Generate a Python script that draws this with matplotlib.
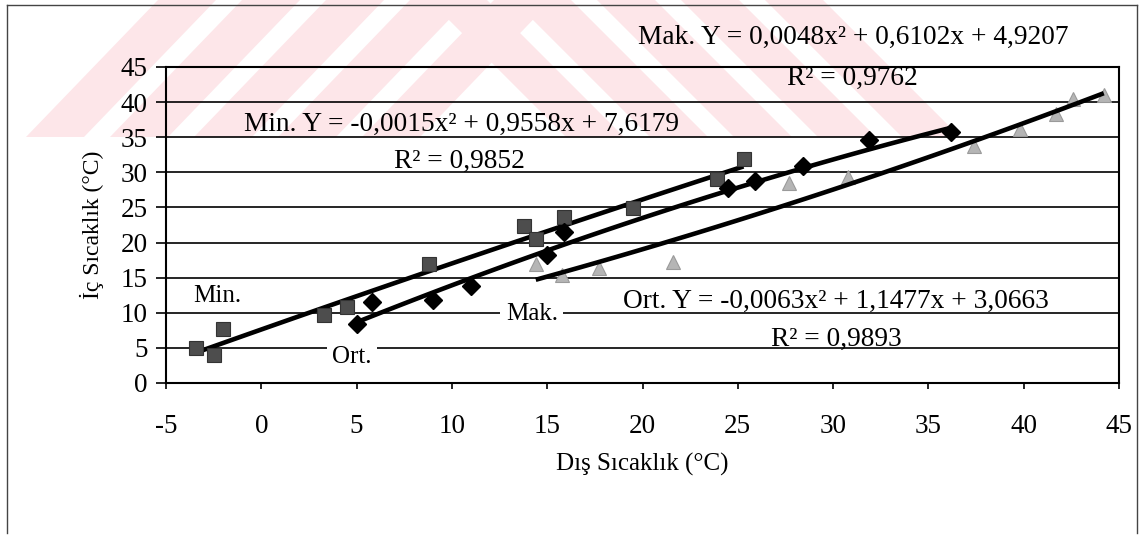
import numpy as np
import matplotlib.pyplot as plt
from matplotlib.patches import Polygon
from matplotlib.lines import Line2D

W, H = 1146, 535

# Min. (squares)
min_x = [-3.4, -2.5, -2.0, 3.3, 4.5, 8.8, 13.8, 14.4, 15.9, 19.5, 23.9, 25.3]
min_y = [5.0, 4.0, 7.7, 9.7, 10.8, 17.0, 22.3, 20.5, 23.7, 24.9, 29.0, 31.9]
# Ort. (diamonds)
ort_x = [5.0, 5.8, 9.0, 11.0, 15.0, 15.9, 24.5, 25.9, 28.4, 31.9, 36.2]
ort_y = [8.4, 11.5, 11.8, 13.8, 18.2, 21.5, 27.7, 28.7, 30.9, 34.6, 35.7]
# Mak. (triangles)
mak_x = [14.4, 15.8, 17.7, 21.6, 27.7, 30.8, 37.4, 39.8, 41.7, 42.6, 44.2]
mak_y = [17.0, 15.4, 16.4, 17.2, 28.5, 29.4, 33.7, 36.2, 38.3, 40.4, 41.0]

# trend line coefficients shown on the chart (a, b, c)
min_fit = [-0.0015, 0.9558, 7.6179]
ort_fit = [-0.0063, 1.1477, 3.0663]
mak_fit = [0.0048, 0.6102, 4.9207]

plt.rcParams['font.family'] = ['Liberation Serif', 'DejaVu Serif']
plt.rcParams['axes.unicode_minus'] = False
fig = plt.figure(figsize=(W / 100, H / 100), dpi=100)

def px(pts):
    return [(x / W, 1 - y / H) for x, y in pts]

# watermark stripes
wm = '#fde6e9'
for b in [26, 110, 194, 278, 362]:
    fig.add_artist(Polygon(px([(b, 137), (b + 58, 137), (b + 58 + 132, 0), (b + 132, 0)]),
                           closed=True, fc=wm, ec='none', zorder=-5))
for b in [566, 650, 734, 818, 902]:
    fig.add_artist(Polygon(px([(b, 137), (b + 58, 137), (b + 58 - 137, 0), (b - 137, 0)]),
                           closed=True, fc=wm, ec='none', zorder=-5))

# outer frame
fr = '#444444'
fig.add_artist(Line2D([7 / W, 7 / W], [1 - 533 / H, 1 - 5 / H], color=fr, lw=1))
fig.add_artist(Line2D([7 / W, 1137 / W], [1 - 5 / H, 1 - 5 / H], color=fr, lw=1))
fig.add_artist(Line2D([1137 / W, 1137 / W], [1 - 533 / H, 1 - 5 / H], color=fr, lw=1))

ax = fig.add_axes([166 / W, 1 - 383 / H, 953 / W, 316 / H])
ax.set_facecolor('none')
ax.set_xlim(-5, 45)
ax.set_ylim(0, 45)
ax.set_xticks(np.arange(-5, 46, 5))
ax.set_yticks(np.arange(0, 46, 5))
ax.yaxis.grid(True, color='black', lw=1.2)
ax.set_axisbelow(True)
for s in ax.spines.values():
    s.set_linewidth(1.5)
ax.tick_params(direction='out', labelsize=19.5, width=1.2)
ax.tick_params(axis='y', length=7, pad=6)
ax.tick_params(axis='x', length=4, pad=18)

def trend(xs, c):
    t = np.linspace(min(xs), max(xs), 100)
    return t, c[0] * t ** 2 + c[1] * t + c[2]

for xs, c in [(min_x, min_fit), (ort_x, ort_fit), (mak_x, mak_fit)]:
    t, v = trend(xs, c)
    ax.plot(t, v, color='black', lw=3.3, zorder=3, solid_capstyle='butt')

ax.plot(mak_x, mak_y, '^', ms=10, color='#b5b5b5', mec='#9a9a9a', mew=0.8, zorder=2)
ax.plot(min_x, min_y, 's', ms=10.5, color='#4d4d4d', mec='#333333', mew=0.8, zorder=4)
ax.plot(ort_x, ort_y, 'D', ms=9.5, color='black', zorder=4)

eq = dict(fontsize=19.7, color='black', clip_on=False, zorder=6, va='baseline')
ax.text(19.76, 48.3, 'Mak. Y = 0,0048x² + 0,6102x + 4,9207', ha='left', **eq)
ax.text(31.0, 42.4, 'R² = 0,9762', ha='center', **eq)
ax.text(-0.9, 35.9, 'Min. Y = -0,0015x² + 0,9558x + 7,6179', ha='left', **eq)
ax.text(10.37, 30.6, 'R² = 0,9852', ha='center', **eq)
ax.text(18.98, 10.7, 'Ort. Y = -0,0063x² + 1,1477x + 3,0663', ha='left', **eq)
ax.text(30.15, 5.3, 'R² = 0,9893', ha='center', **eq)

lab = dict(fontsize=18, color='black', clip_on=False, zorder=6, va='baseline', ha='center')
ax.text(-2.32, 11.5, 'Min.', **lab)
box = dict(fc='white', ec='none', pad=4)
ax.text(4.76, 2.8, 'Ort.', bbox=box, **lab)
ax.text(14.2, 9.0, 'Mak.', bbox=box, **lab)

ax.set_xlabel('Dış Sıcaklık (°C)', fontsize=18, labelpad=10)
ax.set_ylabel('İç Sıcaklık (°C)', fontsize=17, labelpad=12)

fig.savefig('out.png', dpi=100)
